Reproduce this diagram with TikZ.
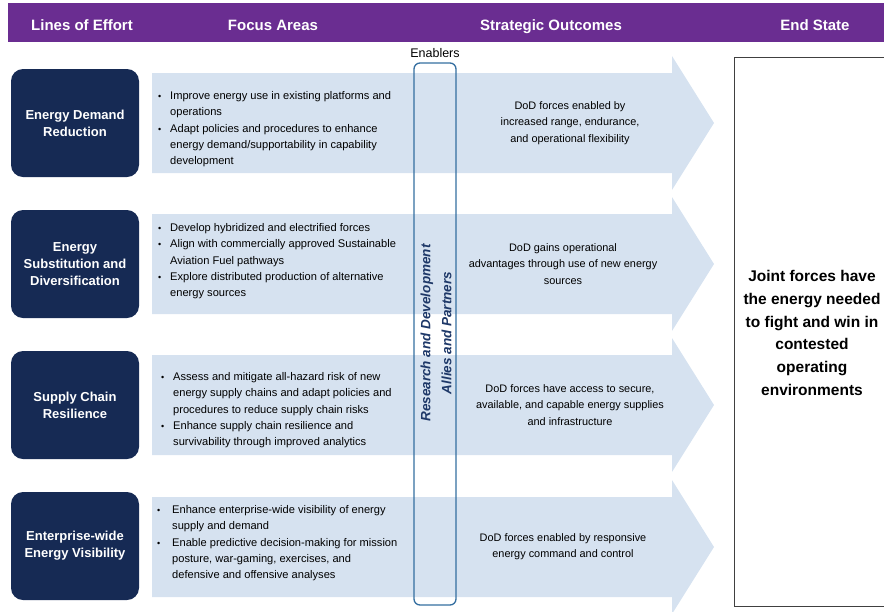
\documentclass[tikz,border=0pt]{standalone}
\usepackage{fontspec}
\setmainfont{Liberation Sans}
\usetikzlibrary{positioning}

\definecolor{hdrpurple}{RGB}{106,45,145}
\definecolor{loenavy}{RGB}{22,42,84}
\definecolor{arrowblue}{RGB}{214,226,240}
\definecolor{enabblue}{RGB}{52,110,160}
\definecolor{enabtext}{RGB}{30,56,104}

\newcommand{\bul}{{\small\textbullet}}

\begin{document}
\begin{tikzpicture}[
  x=1pt, y=-1pt,
  hdr/.style={anchor=base, text=white, font=\fontsize{15}{17}\selectfont\bfseries},
  loe/.style={rectangle, fill=loenavy, rounded corners=12pt, minimum width=128pt, minimum height=108pt, text=white, align=center, font=\fontsize{13}{17}\selectfont\bfseries},
  focus/.style={anchor=west, inner sep=0pt, font=\fontsize{11.1}{16.3}\selectfont},
  outcome/.style={align=center, font=\fontsize{10.9}{16.3}\selectfont},
  flow/.style={fill=arrowblue}
]
\useasboundingbox (0,0) rectangle (884,611);

% header band
\fill[hdrpurple] (8,3) rectangle (884,42);
\node[hdr] (hloe) at (82,30) {Lines of Effort};
\node[hdr] (hfocus) at (273,30) {Focus Areas};
\node[hdr] (hout) at (551,30) {Strategic Outcomes};
\node[hdr] (hend) at (815,30) {End State};

% big arrows
\foreach \yc in {123,264,405,547}
  \fill[flow] (152,\yc-50) -- (672,\yc-50) -- (672,\yc-67) -- (714,\yc)
    -- (672,\yc+67) -- (672,\yc+50) -- (152,\yc+50) -- cycle;

% lines of effort
\node[loe] (demand) at (75,123) {Energy Demand\\Reduction};
\node[loe] (subst) at (75,264) {Energy\\Substitution and\\Diversification};
\node[loe] (supply) at (75,405) {Supply Chain\\Resilience};
\node[loe] (visib) at (75,546) {Enterprise-wide\\Energy Visibility};

% focus areas
\node[focus] (fdemand) at (158,129) {\begin{tabular}{@{}p{12pt}@{}l@{}}
  \bul & Improve energy use in existing platforms and\\
       & operations\\
  \bul & Adapt policies and procedures to enhance\\
       & energy demand/supportability in capability\\
       & development
\end{tabular}};
\node[focus] (fsubst) at (158,261) {\begin{tabular}{@{}p{12pt}@{}l@{}}
  \bul & Develop hybridized and electrified forces\\
  \bul & Align with commercially approved Sustainable\\
       & Aviation Fuel pathways\\
  \bul & Explore distributed production of alternative\\
       & energy sources
\end{tabular}};
\node[focus] (fsupply) at (161,410) {\begin{tabular}{@{}p{12pt}@{}l@{}}
  \bul & Assess and mitigate all-hazard risk of new\\
       & energy supply chains and adapt policies and\\
       & procedures to reduce supply chain risks\\
  \bul & Enhance supply chain resilience and\\
       & survivability through improved analytics
\end{tabular}};
\node[focus] (fvisib) at (157,543) {\begin{tabular}{@{}p{15pt}@{}l@{}}
  \bul & Enhance enterprise-wide visibility of energy\\
       & supply and demand\\
  \bul & Enable predictive decision-making for mission\\
       & posture, war-gaming, exercises, and\\
       & defensive and offensive analyses
\end{tabular}};

% enablers
\node[draw=enabblue, line width=1.3pt, rounded corners=6pt, minimum width=42pt, minimum height=542pt] (enab) at (435,334) {};
\node[above=1pt of enab] (enablbl) {\fontsize{12.5}{14}\selectfont Enablers};
\node[rotate=90, align=center, text=enabtext, font=\fontsize{13.5}{21}\selectfont\bfseries\itshape] (rdap) at (436,333) {Research and Development\\Allies and Partners};

% strategic outcomes
\node[outcome] (odemand) at (570,123) {DoD forces enabled by\\increased range, endurance,\\and operational flexibility};
\node[outcome] (osubst) at (563,264) {DoD gains operational\\advantages through use of new energy\\sources};
\node[outcome] (osupply) at (570,405) {DoD forces have access to secure,\\available, and capable energy supplies\\and infrastructure};
\node[outcome] (ovisib) at (563,547) {DoD forces enabled by responsive\\energy command and control};

% end state
\node[draw=black!75, line width=0.9pt, anchor=north west, minimum width=156pt, minimum height=549pt] (endbox) at (734,57) {};
\node[align=center, font=\fontsize{15.5}{22.7}\selectfont\bfseries] (endtxt) at (812,333) {Joint forces have\\the energy needed\\to fight and win in\\contested\\operating\\environments};
\end{tikzpicture}
\end{document}
